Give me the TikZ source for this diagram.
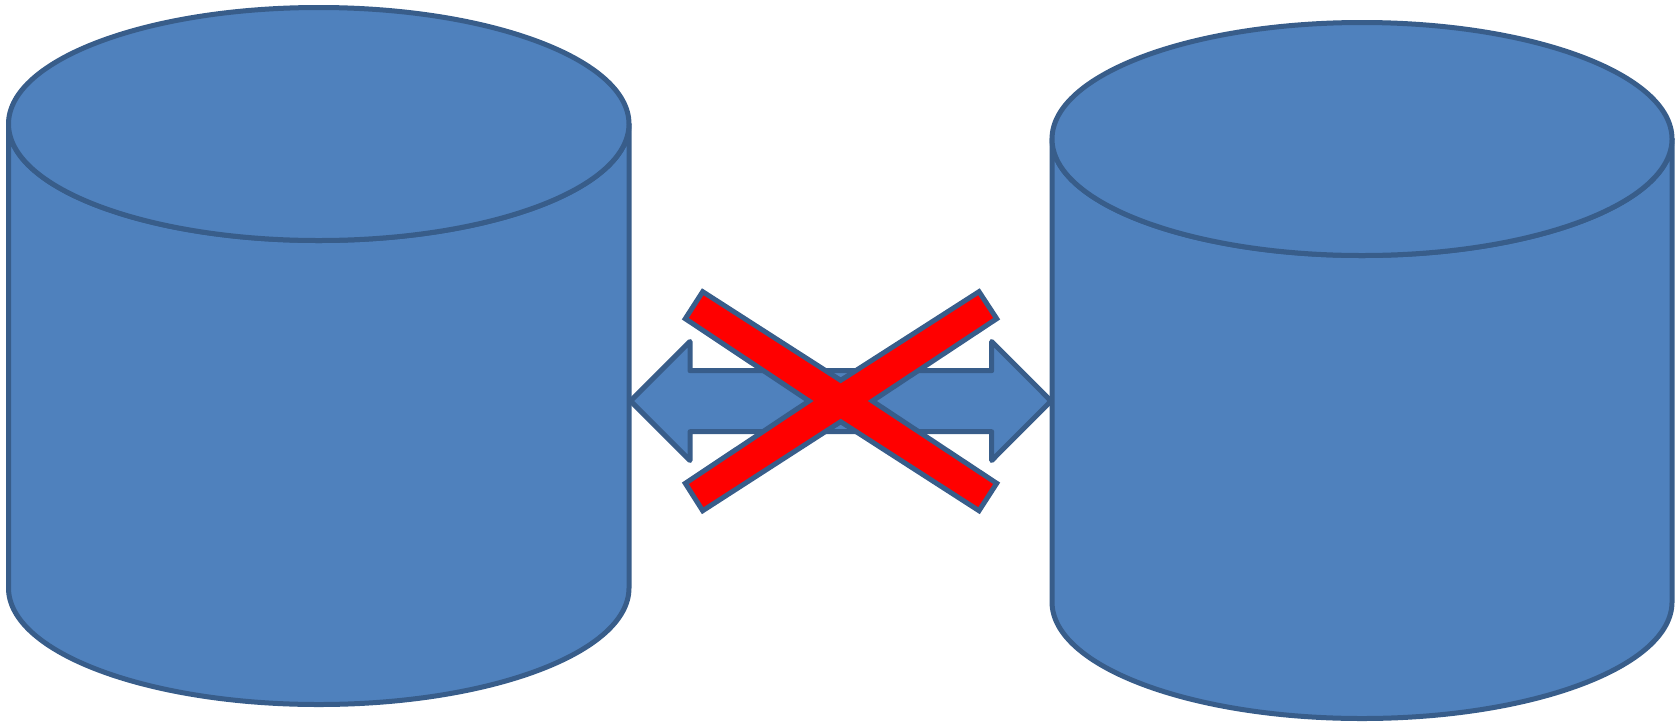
\documentclass[tikz,border=0pt]{standalone}
\definecolor{shapefill}{HTML}{4F81BD}
\definecolor{shapeline}{HTML}{385D8A}
\tikzset{
  shapebody/.style={fill=shapefill,draw=shapeline,line width=5pt,line join=round},
  crossbar/.style={fill=red,draw=shapeline,line width=5pt,line join=miter,miter limit=10}
}
\newcommand{\drum}[4]{% left x, top-ellipse centre y, bottom-ellipse centre y, radius x
  \path[shapebody] (#1,#2) -- (#1,#3) arc (180:0:#4 and 116.5) -- ({#1+2*#4},#2) arc (0:180:#4 and 116.5) -- cycle;
  \path[shapebody] ({#1+#4},#2) ellipse (#4 and 116.5);
}
\begin{document}
\begin{tikzpicture}[x=1pt,y=-1pt]
\useasboundingbox (0,0) rectangle (1677,721);
\drum{8.5}{124}{588}{310.25}
\drum{1052}{139}{602}{310}
\path[shapebody] (630.5,401) -- (690,341.5) -- (690,370.7) -- (991.7,370.7) -- (991.7,341.5)
  -- (1051,401) -- (991.7,460.5) -- (991.7,431.7) -- (690,431.7) -- (690,460.5) -- cycle;
\path[crossbar] (702.7,291.7) -- (840.7,380.3) -- (979,291.7) -- (996.7,318.7) -- (872.3,401)
  -- (996.7,483.3) -- (979,510.7) -- (840.7,421.7) -- (702.7,510.7) -- (685.3,483.3)
  -- (809,401) -- (685.3,318.7) -- cycle;
\end{tikzpicture}
\end{document}
